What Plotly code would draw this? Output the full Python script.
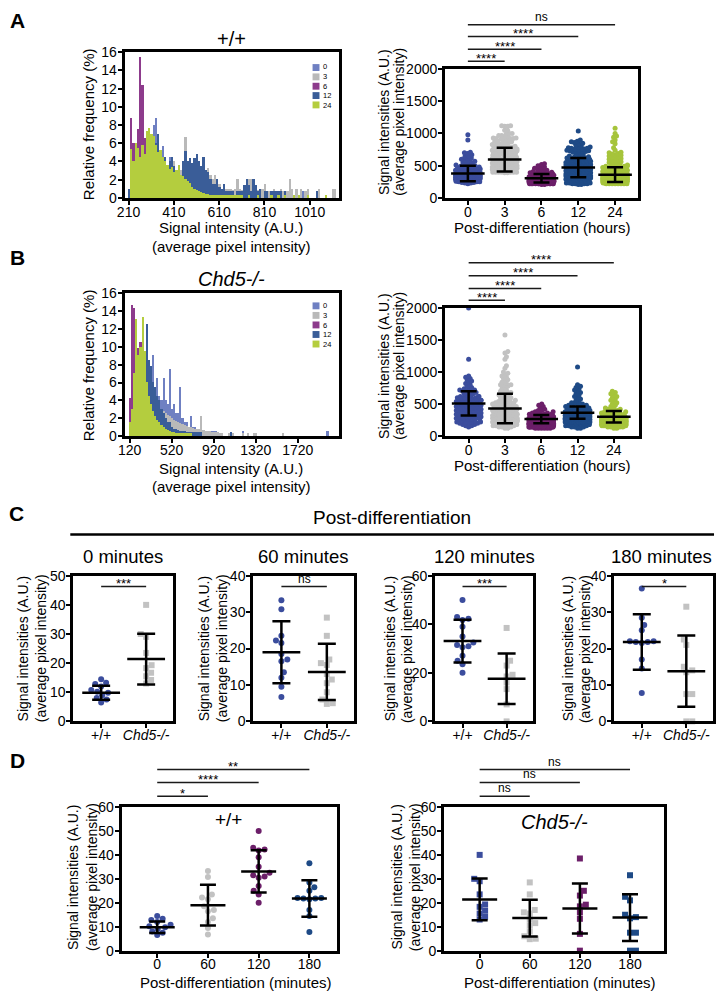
import numpy as np
import plotly.graph_objects as go

W, H = 716, 999
FONT = "Liberation Sans, Arial, sans-serif"

hours = ["0", "3", "6", "12", "24"]
hist_colors = ["#6f80c2", "#b9b9b9", "#8d3b8c", "#3a5d98", "#b4cd3e"]
dot_colors = ["#3b4d9d", "#c2c2c2", "#6c1f69", "#1e4a86", "#a6c43b"]

# ---- A: +/+ histogram, relative frequency (%), 10-unit bins, first bin at 210
a_start, a_width = 210, 10
a_freq_0 = [0, 0.5, 1.0, 1.5, 2.0, 2.5, 3.0, 3.5, 4.0, 4.5,
            5.0, 8.0, 8.7, 5.5, 5.0, 5.7, 4.5, 3.5, 4.5, 4.3,
            3.0, 2.5, 2.0, 1.8, 1.5, 2.0, 1.3, 1.0, 1.0, 0.8,
            0.8, 0.7, 0.7, 0.7, 0.7, 0.7, 0.7, 0.7, 0.7, 0.7,
            0.7, 0.7, 0, 0.7, 0.7, 0, 0.7, 0, 0.7, 0.7,
            0.7, 0, 0, 0, 0, 0, 0, 0, 0, 0,
            0, 0, 0, 0, 0, 0, 0, 0, 0, 0.7,
            0, 0, 0, 0, 0, 0, 0, 0.7]
a_freq_3 = [0, 0, 0, 0, 0, 0, 0, 0, 0, 0,
            0, 0, 0, 0, 0, 0, 0, 0, 1.0, 4.5,
            4.0, 2.5, 3.0, 3.0, 3.5, 6.7, 3.5, 3.5, 3.5, 3.0,
            3.0, 3.0, 3.0, 3.0, 2.5, 3.3, 2.5, 2.0, 2.5, 1.5,
            1.5, 1.0, 1.5, 1.0, 1.0, 1.0, 0.8, 1.0, 2.1, 1.0,
            0.8, 1.0, 1.0, 2.1, 2.1, 2.1, 1.0, 0.8, 1.0, 1.0,
            1.5, 0.7, 0.7, 0.7, 1.0, 0.7, 0.7, 1.0, 0.7, 0.7,
            0.7, 2.1, 1.0, 0, 1.0, 0, 1.0, 0, 0.7, 1.0,
            0, 0, 0, 0, 1.0, 0, 0, 0, 0, 0,
            1.0, 1.0]
a_freq_6 = [1.0, 8.8, 6.0, 4.2, 7.5, 15.4, 12.4, 6.5, 5.5, 5.0,
            4.5, 4.0, 3.5, 3.0, 2.5, 2.0, 1.8, 1.5, 1.2, 1.0,
            0.8, 0.7, 0.7, 0.7, 0.7, 0.7, 0.7, 0.7, 0, 0.7,
            0, 0.7, 0.7]
a_freq_12 = [1.0, 2.9, 2.0, 2.0, 2.0, 2.0, 2.0, 2.2, 2.3, 2.5,
             2.5, 2.7, 6.0, 7.0, 4.0, 4.0, 4.5, 3.5, 4.0, 4.5,
             3.5, 2.5, 2.0, 1.5, 4.0, 5.1, 4.0, 4.3, 3.8, 4.3,
             4.8, 4.0, 3.5, 4.5, 3.0, 2.8, 2.0, 1.5, 1.5, 2.0,
             1.2, 1.0, 1.5, 0.7, 0.7, 0.7, 0.7, 0, 0.7, 0.7,
             0.7, 1.4, 2.0, 1.4, 0.7, 2.0, 1.4, 0.7, 1.0, 0,
             0.7, 0.7, 0, 0.7, 0.7, 0.7, 0.7, 0.7, 0, 0.7,
             0, 0, 0, 0, 0, 0, 0, 0, 0, 0,
             0, 0, 0, 0.7]
a_freq_24 = [0, 5.3, 4.0, 6.0, 5.5, 4.5, 5.8, 4.8, 7.3, 7.6,
             7.0, 6.8, 5.8, 5.0, 5.2, 4.5, 4.0, 3.6, 3.2, 3.4,
             2.8, 3.0, 3.6, 2.5, 2.4, 2.0, 1.8, 1.6, 1.2, 1.0,
             0.8, 0.7, 0.6, 0.5, 0.4, 0.4, 0.3, 0.3, 0.3, 0.3,
             0.3, 0.3, 0.3, 0.3, 0.3, 0.3, 0.3, 0.3, 0.3, 0.3,
             0.3, 0, 0, 0.3, 0, 0, 0, 0.3, 0, 0,
             0, 0, 0, 0.3, 0, 0, 0.3, 0, 0, 0.3,
             0, 0, 0, 0.3, 0, 0.3, 0, 0, 0, 0.3,
             0, 0, 0, 0, 0, 0, 0, 0.3]

# ---- B: Chd5-/- histogram, 20-unit bins, first bin at 120 (+ a few far outliers)
b_start, b_width = 120, 20
b_freq_0 = [0, 0.5, 1.0, 1.5, 2.0, 2.5, 3.0, 3.5, 4.0, 5.0,
            5.5, 9.0, 5.0, 6.5, 4.5, 4.0, 6.5, 4.0, 3.5, 7.5,
            3.0, 3.5, 2.5, 2.5, 5.5, 2.0, 1.5, 1.5, 1.0, 2.2,
            1.0, 1.0, 0.8, 0.8, 0.6, 0.6, 0.5, 0.5, 0.5, 0.5,
            0.5, 0.5]
b_tail_x_0 = [1200, 2000]
b_tail_f_0 = [0.5, 0.5]
b_freq_3 = [1.0, 2.0, 3.0, 4.0, 5.0, 5.5, 6.0, 6.5, 6.5, 6.0,
            5.5, 5.0, 4.5, 4.0, 3.5, 3.0, 2.8, 2.5, 2.3, 2.2,
            2.0, 1.8, 1.6, 1.5, 1.4, 1.3, 1.2, 1.1, 1.0, 1.0,
            0.9, 0.8, 0.7, 0.7, 2.2, 0.6, 0.5, 0.5, 0.5, 0.4,
            0.4, 0.4, 0.4, 0.3, 0.3]
b_tail_x_3 = [1060, 1100, 1200, 1240, 1300, 1320, 1580]
b_tail_f_3 = [0.3, 0.3, 0.3, 0.3, 0.3, 0.3, 0.3]
b_freq_6 = [4.2, 14.6, 14.3, 13.0, 9.8, 10.5, 8.5, 7.0, 5.5, 4.5,
            3.5, 2.5, 2.0, 1.5, 1.0, 0.8, 0.5, 0.5, 0.3, 0.3]
b_freq_12 = [1.0, 2.0, 3.0, 4.5, 6.0, 7.0, 8.0, 9.0, 12.5, 8.5,
             7.8, 6.0, 5.5, 4.5, 4.0, 3.0, 2.5, 2.0, 1.5, 1.5,
             1.0, 0.8, 0.7, 0.6, 0.5, 0.5, 0.5, 0.4, 0.4, 0.4,
             0.4, 0.4, 0.4, 0.4, 0.4]
b_tail_x_12 = [1080]
b_tail_f_12 = [0.4]
b_freq_24 = [1.5, 3.0, 7.0, 13.1, 9.0, 10.0, 13.3, 9.5, 6.0, 4.5,
             3.5, 2.8, 2.2, 1.8, 1.5, 1.2, 1.0, 0.8, 0.6, 0.5,
             0.4, 0.4, 0.3, 0.3, 0.3, 0.3, 0.3, 0.3, 0.3, 0.3]

# mean and SD shown on the swarm plots
a_mean = [380, 595, 305, 470, 360]
a_sd = [120, 185, 65, 150, 115]
b_mean = [510, 430, 265, 365, 300]
b_sd = [190, 230, 65, 95, 90]

# ---- C / D: per-cell signal after 0, 60, 120, 180 minutes
minutes = ["0", "60", "120", "180"]
wt_0 = [14.5, 13.3, 12.8, 12.0, 10.8, 10.2, 9.8, 9.0, 8.0, 7.5, 6.5]
wt_60 = [33.3, 30.8, 23.5, 22.2, 21.5, 18.5, 17.0, 16.5, 13.5, 12.0, 9.5, 6.7]
wt_120 = [50.0, 43.0, 42.3, 41.8, 39.0, 35.0, 32.5, 31.5, 31.0, 30.5, 27.0, 25.0, 23.5, 20.0]
wt_180 = [36.5, 28.5, 26.5, 25.0, 22.0, 22.0, 21.8, 21.8, 21.5, 17.0, 14.5, 7.8]
ko_0 = [40.0, 30.0, 29.0, 23.5, 19.3, 18.3, 16.7, 15.5, 14.2, 13.0]
ko_60 = [28.5, 23.5, 17.0, 16.0, 15.5, 13.0, 11.5, 10.5, 8.0, 6.0, 5.0, 4.8]
ko_120 = [38.5, 25.0, 23.0, 19.2, 18.5, 16.0, 13.3, 7.0, 0.0]
ko_180 = [31.5, 22.5, 21.0, 15.0, 14.0, 13.5, 7.5, 7.5, 0.0, 0.0]
wt_mean = [9.8, 19.0, 33.1, 21.8]
wt_sd = [2.4, 8.5, 8.8, 7.6]
ko_mean = [21.4, 13.6, 17.6, 13.8]
ko_sd = [8.7, 7.7, 10.4, 9.8]

genotypes = ["+/+", "<i>Chd5-/-</i>"]
c_titles = ["0 minutes", "60 minutes", "120 minutes", "180 minutes"]
c_ymax = [50, 40, 60, 40]
c_dtick = [10, 10, 20, 10]

a_sig = ["****", "****", "****", "ns"]
b_sig = ["****", "****", "****", "****"]
c_sig = ["***", "ns", "***", "*"]
d1_sig = ["*", "****", "**"]
d2_sig = ["ns", "ns", "ns"]

PTS_PER_PCT = 1.5


def px_x(x):
    return x / W


def px_y(y):
    return 1 - y / H


def expand(start, width, freq, tail_x=(), tail_f=()):
    xs = [start + width * k for k in range(len(freq))] + list(tail_x)
    fs = list(freq) + list(tail_f)
    vals = []
    for x, f in zip(xs, fs):
        if f > 0:
            vals += [x] * max(1, int(round(f * PTS_PER_PCT)))
    return np.array(vals, float)


def swarm_offsets(vals, y_px, x_px, d, cap):
    vals = np.asarray(vals, float)
    order = np.argsort(vals, kind="stable")
    offs = np.zeros(len(vals))
    py, pxs = [], []
    step = 0.5
    for n, i in enumerate(order):
        y = vals[i] * y_px
        ay, ax = np.array(py), np.array(pxs)
        if len(ay):
            m = np.abs(ay - y) < d
            ay, ax = ay[m], ax[m]
        sgn = 1 if n % 2 else -1
        found = None
        for k in range(int(cap / step) + 1):
            for s in ((0,) if k == 0 else (sgn, -sgn)):
                x = s * k * step
                if np.all((ax - x) ** 2 + (ay - y) ** 2 >= d * d):
                    found = x
                    break
            if found is not None:
                break
        if found is None:
            found = ((n * 7) % 25 - 12) / 12 * cap
        py.append(y)
        pxs.append(found)
        offs[i] = found / x_px
    return offs


def ax_style(**kw):
    d = dict(showline=True, linewidth=3, linecolor="black", mirror=True,
             ticks="outside", ticklen=4, tickwidth=2, tickcolor="black",
             showgrid=False, zeroline=False, fixedrange=True,
             tickfont=dict(family=FONT, size=14, color="black"))
    d.update(kw)
    return d


fig = go.Figure()
layout = {}
annotations = []
shapes = []


def add_axes(n, box, xr, yr, xkw, ykw):
    l, t, r, b = box
    sfx = "" if n == 1 else str(n)
    layout["xaxis" + sfx] = ax_style(domain=[px_x(l), px_x(r)], range=xr,
                                      anchor="y" + sfx, ticklabelstandoff=-5, **xkw)
    layout["yaxis" + sfx] = ax_style(domain=[px_y(b), px_y(t)], range=yr,
                                      anchor="x" + sfx, ticklabelstandoff=-2, **ykw)
    return "x" + sfx, "y" + sfx


def label(x, y, s, size=14, angle=0, anchor="center", **kw):
    annotations.append(dict(x=px_x(x), y=px_y(y), xref="paper", yref="paper",
                            text=s, showarrow=False, textangle=angle,
                            xanchor=anchor, yanchor="middle",
                            font=dict(family=FONT, size=size, color="black"), **kw))


def mean_sd(xa, ya, xs, means, sds, size, cap):
    fig.add_trace(go.Scatter(
        x=xs, y=means, xaxis=xa, yaxis=ya, mode="markers", cliponaxis=False,
        marker=dict(symbol="line-ew", size=size, color="black",
                    line=dict(width=2.5, color="black")),
        error_y=dict(type="data", array=sds, width=cap, thickness=2.5, color="black"),
        hoverinfo="skip"))


def sig_bars(xa, pairs, texts, ys, size=12):
    for (a, b), t, y in zip(pairs, texts, ys):
        shapes.append(dict(type="line", xref=xa, yref="paper", x0=a, x1=b,
                           y0=px_y(y), y1=px_y(y), line=dict(color="#1a1a1a", width=1.5)))
        star = "*" in t
        annotations.append(dict(x=(a + b) / 2, y=px_y(y), xref=xa, yref="paper", text=t,
                                showarrow=False, yanchor="middle",
                                yshift=3 if star else 8,
                                font=dict(family=FONT, size=size + 1 if star else size,
                                          color="black")))


def hist_legend(top, gap):
    for i, c in enumerate(hist_colors):
        y = top + gap * i
        shapes.append(dict(type="rect", xref="paper", yref="paper",
                           x0=px_x(308), x1=px_x(315), y0=px_y(y + 3.5), y1=px_y(y - 3.5),
                           fillcolor=c, line=dict(width=0)))
    # one text block; 7.5 px font gives ~9.75 px line spacing
    label(318, top + gap * 2, "<br>".join(hours), size=7.5, anchor="left",
          align="left", borderpad=0)


# ---------------- Panel A / B histograms and swarms ----------------
hist_sets = [
    (1, (118, 45, 335, 193), [193, 1140], [210, 410, 610, 810, 1010], a_start, a_width,
     [a_freq_0, a_freq_3, a_freq_6, a_freq_12, a_freq_24], [(), (), (), (), ()], [(), (), (), (), ()]),
    (3, (118, 290, 335, 435), [73, 2115], [120, 520, 920, 1320, 1720], b_start, b_width,
     [b_freq_0, b_freq_3, b_freq_6, b_freq_12, b_freq_24],
     [b_tail_x_0, b_tail_x_3, (), b_tail_x_12, ()], [b_tail_f_0, b_tail_f_3, (), b_tail_f_12, ()]),
]
swarm_sets = [
    (2, (442, 62, 637, 193), [-0.62, 4.62], a_mean, a_sd),
    (4, (442, 305, 638, 435), [-0.65, 4.69], b_mean, b_sd),
]

for (hn, hbox, hxr, hticks, start, width, freqs, tx, tf), (sn, sbox, sxr, means, sds) in zip(hist_sets, swarm_sets):
    xa, ya = add_axes(hn, hbox, hxr, [0, 16], dict(tickvals=hticks), dict(dtick=2))
    for f, c, tx_, tf_ in zip(freqs, hist_colors, tx, tf):
        xs = [start + width * k for k in range(len(f))] + list(tx_)
        fig.add_trace(go.Bar(x=xs, y=list(f) + list(tf_), width=width, xaxis=xa, yaxis=ya,
                             marker=dict(color=c, line=dict(width=0)), hoverinfo="skip"))
    xa2, ya2 = add_axes(sn, sbox, sxr, [0, 2000],
                        dict(tickvals=list(range(5)), ticktext=hours), dict(dtick=500))
    l, t, r, b = sbox
    y_px = (b - t) / 2000
    x_px = (r - l) / (sxr[1] - sxr[0])
    for i, (f, c, tx_, tf_) in enumerate(zip(freqs, dot_colors, tx, tf)):
        vals = expand(start, width, f, tx_, tf_)
        offs = swarm_offsets(vals, y_px, x_px, d=3.0, cap=12.5)
        fig.add_trace(go.Scatter(x=i + offs, y=vals, xaxis=xa2, yaxis=ya2, mode="markers",
                                 cliponaxis=False, hoverinfo="skip",
                                 marker=dict(size=5, color=c, line=dict(width=0))))
    mean_sd(xa2, ya2, list(range(5)), means, sds, 24, 8)

hist_legend(60.5, 9.5)
hist_legend(302.7, 9.7)
sig_bars("x2", [(0, 1), (0, 2), (0, 3), (0, 4)], a_sig, [54, 42, 29, 17])
sig_bars("x4", [(0, 1), (0, 2), (0, 3), (0, 4)], b_sig, [297, 285, 272, 259])

# ---------------- Panel C ----------------
wt_all = [wt_0, wt_60, wt_120, wt_180]
ko_all = [ko_0, ko_60, ko_120, ko_180]
c_boxes = [(66, 577, 167, 725), (248, 577, 350, 725), (432, 577, 531, 725), (613, 577, 713, 725)]
c_ytitle_x = [(15, 33), (198, 216), (386, 403), (566, 583)]
for k in range(4):
    n = 5 + k
    box = c_boxes[k]
    xr = [-0.62, 1.6]
    xa, ya = add_axes(n, box, xr, [0, c_ymax[k]],
                      dict(tickvals=[0, 1], ticktext=genotypes), dict(dtick=c_dtick[k]))
    l, t, r, b = box
    y_px = (b - t) / c_ymax[k]
    x_px = (r - l) / (xr[1] - xr[0])
    for j, (vals, col, sym) in enumerate([(wt_all[k], dot_colors[0], "circle"),
                                          (ko_all[k], dot_colors[1], "square")]):
        offs = swarm_offsets(vals, y_px, x_px, d=6, cap=25)
        fig.add_trace(go.Scatter(x=j + offs, y=vals, xaxis=xa, yaxis=ya, mode="markers",
                                 cliponaxis=False, hoverinfo="skip",
                                 marker=dict(size=6, symbol=sym, color=col, line=dict(width=0))))
    mean_sd(xa, ya, [0, 1], [wt_mean[k], ko_mean[k]], [wt_sd[k], ko_sd[k]], 27, 9)
    sig_bars(xa, [(0, 1)], [c_sig[k]], [588])
    label((l + r) / 2 - (2 if k == 3 else 0), 557, c_titles[k], size=18.5)
    x1, x2 = c_ytitle_x[k]
    label(x1, 651, "Signal intensities (A.U.)", angle=-90)
    label(x2, 651, "(average pixel intensity)", angle=-90)

# ---------------- Panel D ----------------
d_boxes = [(115, 812, 333, 958), (441, 812, 663, 958)]
d_xr = [[-0.7, 3.55], [-0.71, 3.67]]
d_data = [(wt_all, wt_mean, wt_sd, "circle"), (ko_all, ko_mean, ko_sd, "square")]
d_ytitle_x = [(66, 85), (393, 411)]
for k in range(2):
    n = 9 + k
    box = d_boxes[k]
    xa, ya = add_axes(n, box, d_xr[k], [0, 60],
                      dict(tickvals=list(range(4)), ticktext=minutes), dict(dtick=10))
    l, t, r, b = box
    y_px = (b - t) / 60
    x_px = (r - l) / (d_xr[k][1] - d_xr[k][0])
    groups, means, sds, sym = d_data[k]
    for j, vals in enumerate(groups):
        offs = swarm_offsets(vals, y_px, x_px, d=6, cap=25)
        fig.add_trace(go.Scatter(x=j + offs, y=vals, xaxis=xa, yaxis=ya, mode="markers",
                                 cliponaxis=False, hoverinfo="skip",
                                 marker=dict(size=6, symbol=sym, color=dot_colors[j],
                                             line=dict(width=0))))
    mean_sd(xa, ya, list(range(4)), means, sds, 25, 8)
    sig_bars(xa, [(0, 1), (0, 2), (0, 3)], [d1_sig, d2_sig][k], [801, 787, 774])
    x1, x2 = d_ytitle_x[k]
    label(x1, 883, "Signal intensities (A.U.)", angle=-90)
    label(x2, 883, "(average pixel intensity)", angle=-90)
    label((l + r) / 2 + 6, 990, "Post-differentiation (minutes)", size=15)

# ---------------- text ----------------
label(10, 13, "<b>A</b>", size=21)
label(10, 254, "<b>B</b>", size=21)
label(9, 514, "<b>C</b>", size=21)
label(10, 765, "<b>D</b>", size=21)

label(226, 32, "+/+", size=20)
label(226, 275, "<i>Chd5-/-</i>", size=20)
for yc, y1, y2, y3 in [(118, 223, 242, 223), (363, 468, 486, 465)]:
    label(81, yc, "Relative frequency (%)", size=15, angle=-90)
    label(226, y1, "Signal intensity (A.U.)", size=15)
    label(226, y2, "(average pixel intensity)", size=15)
    label(540, y3, "Post-differentiation (hours)", size=15)
for yc in (116, 364):
    label(380, yc, "Signal intensities (A.U.)", angle=-90)
    label(396, yc, "(average pixel intensity)", angle=-90)

label(388, 518, "Post-differentiation", size=19)
shapes.append(dict(type="line", xref="paper", yref="paper", x0=px_x(63), x1=px_x(714),
                   y0=px_y(535), y1=px_y(535), line=dict(color="black", width=2.5)))
label(223, 825, "+/+", size=19)
label(553, 827, "<i>Chd5-/-</i>", size=20)

fig.update_layout(**layout)
fig.update_layout(width=W, height=H, margin=dict(l=0, r=0, t=0, b=0),
                  paper_bgcolor="white", plot_bgcolor="white", showlegend=False,
                  barmode="overlay", bargap=0, annotations=annotations, shapes=shapes,
                  font=dict(family=FONT, color="black"))
# drop the browser's default 8 px body margin so the figure fills the window
fig.write_html("out.html", config={"displayModeBar": False},
               post_script="document.body.style.margin='0';document.body.style.overflow='hidden';")
